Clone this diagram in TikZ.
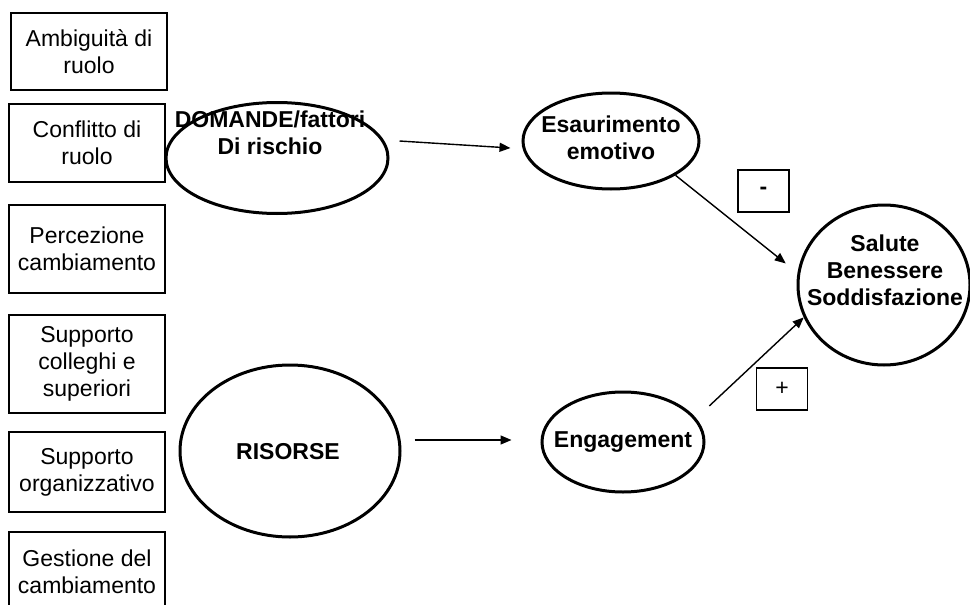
\documentclass[tikz,border=0pt]{standalone}
\usepackage{fontspec}
\setmainfont{Liberation Sans}
\usetikzlibrary{shapes.geometric,arrows.meta}

\newcommand{\diagfont}{\fontsize{11.5}{13.5}\selectfont}

\tikzset{
  box/.style={draw, line width=1.2pt, minimum width=78pt, inner sep=0pt, align=center, font=\diagfont},
  oval/.style={draw, ellipse, line width=1.5pt, inner sep=0pt},
  boldtxt/.style={align=center, font=\diagfont\bfseries},
  sign/.style={draw, line width=0.7pt, minimum width=25.5pt, minimum height=21pt, inner sep=0pt, font=\diagfont},
  link/.style={line width=0.7pt, -{Triangle[length=5.5pt,width=4.5pt]}}
}

\begin{document}
\begin{tikzpicture}[x=0.5pt, y=-0.5pt]

\useasboundingbox (0,0) rectangle (970,605);
\clip (0,0) rectangle (970,605);

% left column
\node[box, minimum height=38.5pt] (amb) at (89,51.5) {Ambiguità di\\ruolo};
\node[box, minimum height=39pt]   (con) at (87,143)  {Conflitto di\\ruolo};
\node[box, minimum height=44pt]   (per) at (87,249)  {Percezione\\cambiamento};
\node[box, minimum height=49pt]   (sup) at (87,364)  {Supporto\\colleghi e\\superiori};
\node[box, minimum height=40pt]   (org) at (87,472)  {Supporto\\organizzativo};
\node[box, minimum height=40pt]   (ges) at (87,572)  {Gestione del\\cambiamento};

% ovals
\node[oval, minimum width=111pt, minimum height=55.5pt] (dom) at (277,158) {};
\node[boldtxt] (domtxt) at (270,133) {DOMANDE/fattori\\Di rischio};
\node[oval, minimum width=110pt, minimum height=86pt] (ris) at (290,451) {};
\node[boldtxt] (ristxt) at (288,452) {RISORSE};
\node[oval, minimum width=88pt, minimum height=48pt] (esa) at (611,141) {};
\node[boldtxt] (esatxt) at (611,138) {Esaurimento\\emotivo};
\node[oval, minimum width=81pt, minimum height=50pt] (eng) at (623,442) {};
\node[boldtxt] (engtxt) at (623,442) {Engagement};
\node[oval, minimum width=86pt, minimum height=80pt] (sal) at (884,285) {};
\node[boldtxt] (saltxt) at (885,270) {Salute\\Benessere\\Soddisfazione};

% signs
\node[sign, font=\diagfont\bfseries] (meno) at (763.5,191) {-};
\node[sign] (piu) at (782,389) {+};

% arrows
\draw[link] ([xshift=5pt,yshift=8.5pt]dom.east) -- ([xshift=-5.5pt,yshift=-3.5pt]esa.west);
\draw[link] ([xshift=6.5pt,yshift=5.5pt]ris.east) -- ([xshift=-14.5pt,yshift=1pt]eng.west);
\draw[link, shorten >=7.5pt] (esa.-28) -- (sal.172);
\draw[link, shorten <=9pt] (eng.18) -- (sal.202);

\end{tikzpicture}
\end{document}
